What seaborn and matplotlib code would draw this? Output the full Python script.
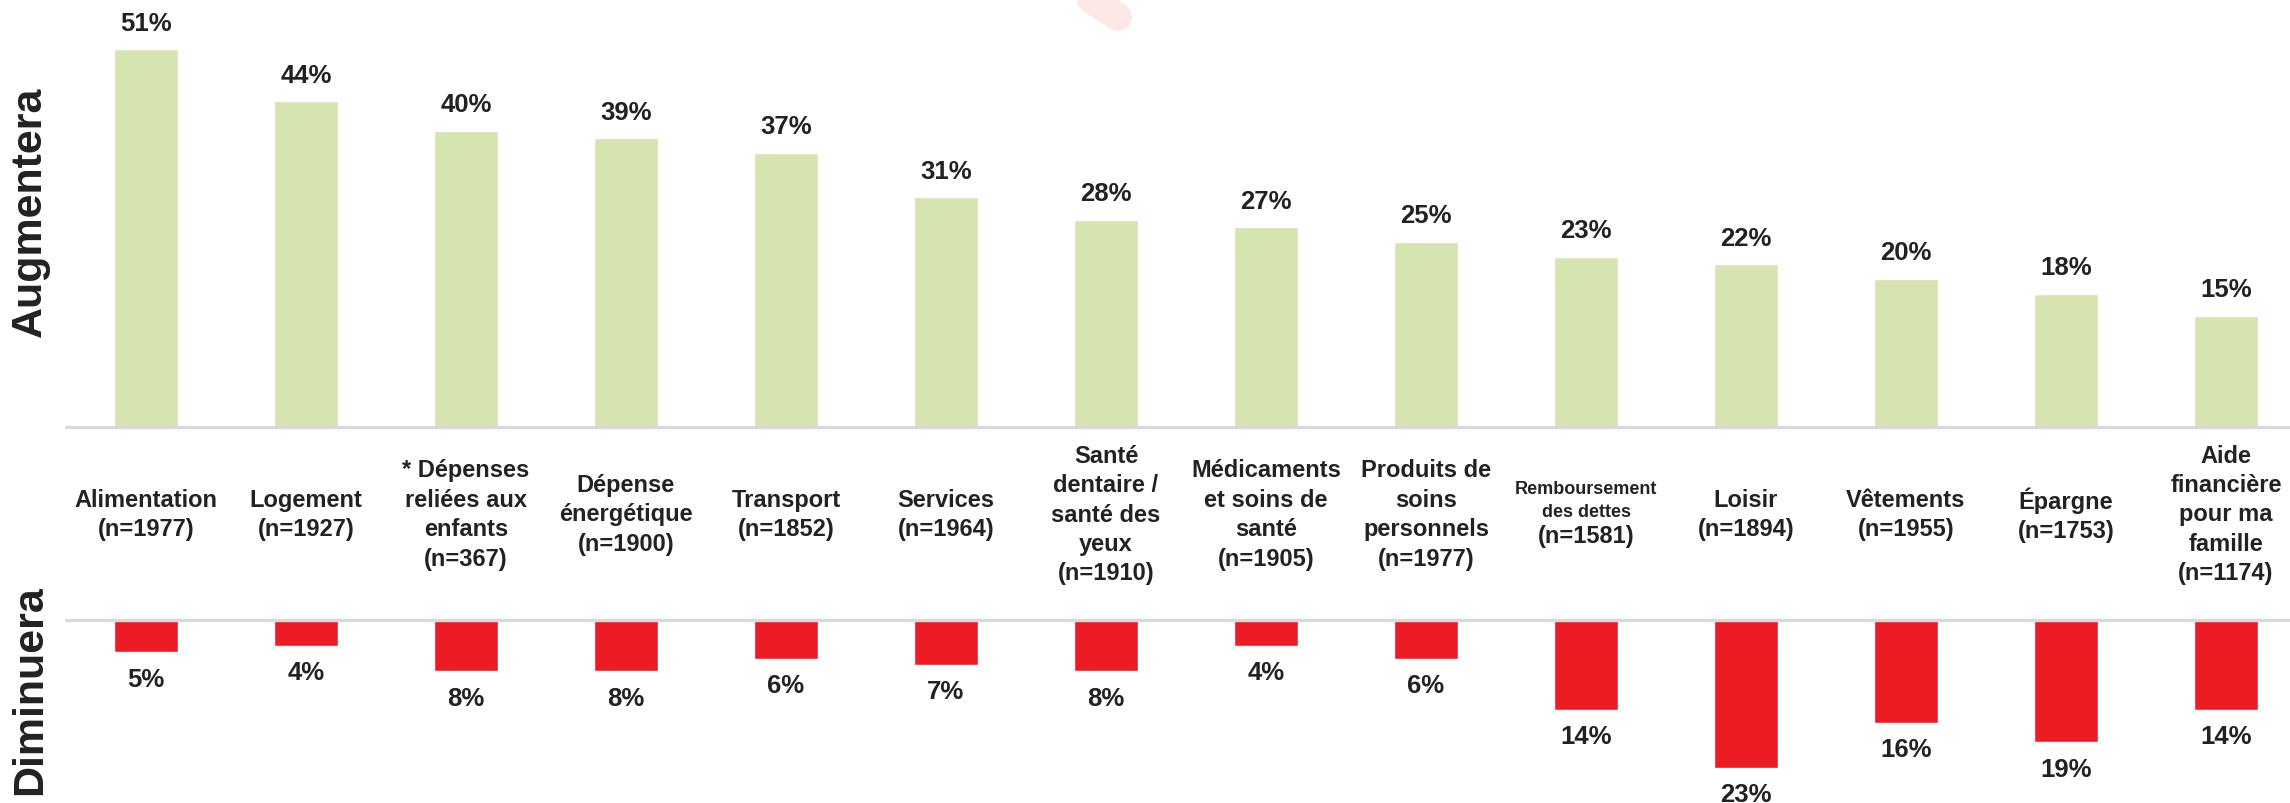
import matplotlib
matplotlib.use("Agg")
import matplotlib.pyplot as plt
import matplotlib.transforms as mtransforms
from matplotlib.lines import Line2D
import seaborn as sns
import pandas as pd

# ---- data ----
categories = ["Alimentation", "Logement", "* Dépenses\nreliées aux\nenfants",
              "Dépense\nénergétique", "Transport", "Services",
              "Santé\ndentaire /\nsanté des\nyeux", "Médicaments\net soins de\nsanté",
              "Produits de\nsoins\npersonnels", "Remboursement\ndes dettes",
              "Loisir", "Vêtements", "Épargne", "Aide\nfinancière\npour ma\nfamille"]
n_values = [1977, 1927, 367, 1900, 1852, 1964, 1910, 1905, 1977, 1581, 1894, 1955, 1753, 1174]
augmentera = [51, 44, 40, 39, 37, 31, 28, 27, 25, 23, 22, 20, 18, 15]
diminuera = [5, 4, 8, 8, 6, 7, 8, 4, 6, 14, 23, 16, 19, 14]
small_label_categories = ["Remboursement\ndes dettes"]

GREEN = "#D6E4B0"
RED = "#ED1C24"
TXT = "#222222"
LINE = "#D9D9D9"

sns.set_theme(style="white")
plt.rcParams["font.family"] = ["Liberation Sans", "DejaVu Sans"]

W, H = 2290, 804
fig = plt.figure(figsize=(W / 100, H / 100), dpi=100)

left = 66 / W
width = (W - 66) / W
ax_top = fig.add_axes([left, 1 - 428 / H, width, 428 / H])
ax_bot = fig.add_axes([left, 0, width, 183 / H])

df = pd.DataFrame({"cat": categories, "up": augmentera,
                   "down": [-d for d in diminuera]})

sns.barplot(data=df, x="cat", y="up", order=categories, color=GREEN,
            saturation=1, width=0.4, ax=ax_top)
sns.barplot(data=df, x="cat", y="down", order=categories, color=RED,
            saturation=1, width=0.4, ax=ax_bot)

for ax in (ax_top, ax_bot):
    ax.set_xlim(-0.5, 13.4)
    ax.set_xticks([])
    ax.set_yticks([])
    ax.set_xlabel("")
    ax.set_ylabel("")
    for s in ax.spines.values():
        s.set_visible(False)
    ax.patch.set_alpha(0)
    ax.axhline(0, color=LINE, lw=2.4, zorder=3, clip_on=False)

ax_top.set_ylim(0, 428 / 7.41)
ax_bot.set_ylim(-183 / 6.43, 0)

# value labels
for i, v in enumerate(augmentera):
    ax_top.annotate(f"{v}%", (i, v), xytext=(0, 19), textcoords="offset points",
                    ha="center", va="center", fontsize=18.5, fontweight="bold",
                    color=TXT, annotation_clip=False)
for i, v in enumerate(diminuera):
    ax_bot.annotate(f"{v}%", (i, -v), xytext=(0, -19), textcoords="offset points",
                    ha="center", va="center", fontsize=18.5, fontweight="bold",
                    color=TXT, annotation_clip=False)

# category labels
trans = mtransforms.blended_transform_factory(ax_top.transData, fig.transFigure)
ymid = 1 - 515 / H
for i, (c, n) in enumerate(zip(categories, n_values)):
    if c in small_label_categories:
        ax_top.text(i, 1 - 501 / H, c, transform=trans, ha="center", va="center",
                    multialignment="center", fontsize=13, fontweight="bold",
                    color=TXT, linespacing=1.4)
        ax_top.text(i, 1 - 537 / H, f"(n={n})", transform=trans, ha="center",
                    va="center", fontsize=17, fontweight="bold", color=TXT)
    else:
        ax_top.text(i, ymid, f"{c}\n(n={n})", transform=trans, ha="center",
                    va="center", multialignment="center", fontsize=17,
                    fontweight="bold", color=TXT, linespacing=1.36)

# side titles
fig.text(30 / W, 1 - 212 / H, "Augmentera", rotation=90, ha="center", va="center",
         fontsize=31, fontweight="bold", color=TXT)
fig.text(30 / W, 1 - 690 / H, "Diminuera", rotation=90, ha="center", va="center",
         fontsize=31, fontweight="bold", color=TXT)

# faint decorative stroke at top
fig.add_artist(Line2D([1078 / W, 1118 / W], [1 + 8 / H, 1 - 18 / H],
                      transform=fig.transFigure, color="#FDE8E8", lw=20,
                      solid_capstyle="round", zorder=0))

fig.savefig("out.png", dpi=100)
